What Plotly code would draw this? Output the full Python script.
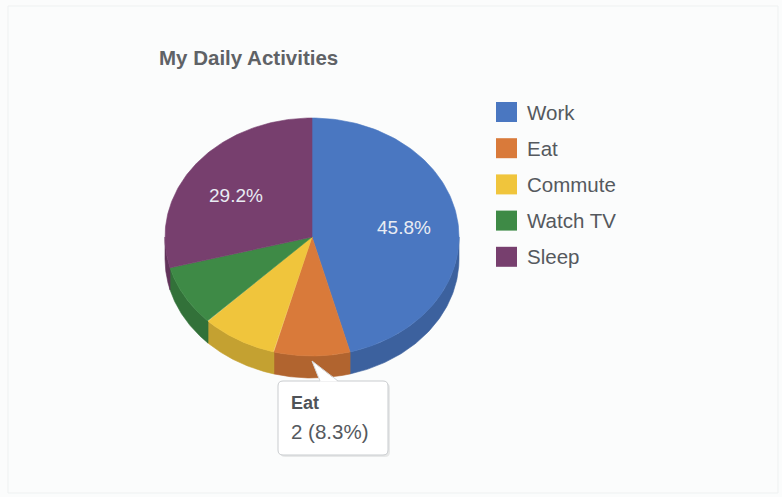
import numpy as np
import plotly.graph_objects as go

# Hours per day spent on each activity
categories = ["Work", "Eat", "Commute", "Watch TV", "Sleep"]
hours = [11, 2, 2, 2, 7]
top_colors = ["#4a77c1", "#d97a3a", "#f0c53c", "#3e8a46", "#773f6e"]
chart_title = "My Daily Activities"
tooltip_index = 1  # slice whose tooltip is shown

# Tilted-ellipse geometry of the pie (pixel space)
CX, CY, RX, RY, DEPTH = 312, 237, 147, 119, 22
W, H = 782, 497
FONT = "Arial, Liberation Sans, sans-serif"


def darken(hex_color, f):
    h = hex_color.lstrip("#")
    r, g, b = (int(h[i:i + 2], 16) for i in (0, 2, 4))
    return "#%02x%02x%02x" % (int(r * f), int(g * f), int(b * f))


def rim(theta_deg, drop=0.0):
    t = np.radians(theta_deg)
    return CX + RX * np.sin(t), CY - RY * np.cos(t) + drop


total = float(sum(hours))
shares = [v / total for v in hours]
bounds = np.concatenate([[0.0], np.cumsum(shares) * 360.0])

fig = go.Figure()

# Side walls (visible front half, 90..270 degrees clockwise from 12 o'clock)
for i, name in enumerate(categories):
    a0, a1 = max(bounds[i], 90.0), min(bounds[i + 1], 270.0)
    if a1 <= a0:
        continue
    th = np.linspace(a0, a1, 80)
    xt, yt = rim(th)
    xb, yb = rim(th[::-1], DEPTH)
    fig.add_trace(go.Scatter(
        x=np.concatenate([xt, xb, xt[:1]]), y=np.concatenate([yt, yb, yt[:1]]),
        mode="lines", fill="toself", fillcolor=darken(top_colors[i], 0.82),
        line=dict(width=0.6, color=darken(top_colors[i], 0.82)),
        hoverinfo="skip", showlegend=False))

# Top faces
for i, name in enumerate(categories):
    th = np.linspace(bounds[i], bounds[i + 1], 120)
    xs, ys = rim(th)
    fig.add_trace(go.Scatter(
        x=np.concatenate([[CX], xs, [CX]]), y=np.concatenate([[CY], ys, [CY]]),
        mode="lines", fill="toself", fillcolor=top_colors[i],
        line=dict(width=0.6, color=top_colors[i]),
        name=name, hoverinfo="text",
        text=f"{name}<br>{hours[i]} ({shares[i] * 100:.1f}%)",
        showlegend=False))

annotations = []
shapes = []

# Percentage labels on the larger slices
for i, s in enumerate(shares):
    if s < 0.1:
        continue
    mid = (bounds[i] + bounds[i + 1]) / 2
    t = np.radians(mid)
    lx = CX + RX * 0.63 * np.sin(t)
    ly = CY - RY * 0.63 * np.cos(t)
    if mid > 180:
        lx -= 3
        ly += 4
    annotations.append(dict(
        x=lx, y=ly, xref="x", yref="y", text=f"{s * 100:.1f}%", showarrow=False,
        font=dict(family=FONT, size=19, color="#e9ecf3")))

# Title
annotations.append(dict(
    x=157, y=57, xref="x", yref="y", xanchor="left", yanchor="middle",
    text=f"<b>{chart_title}</b>", showarrow=False,
    font=dict(family=FONT, size=20.5, color="#5f6266")))

# Legend
for i, name in enumerate(categories):
    yc = 112 + i * 36.2
    shapes.append(dict(type="rect", xref="x", yref="y", x0=496, x1=517,
                       y0=yc - 10, y1=yc + 10,
                       fillcolor=top_colors[i], line=dict(width=0)))
    annotations.append(dict(
        x=525, y=yc, xref="x", yref="y", xanchor="left", yanchor="middle",
        text=name, showarrow=False,
        font=dict(family=FONT, size=20.5, color="#55595e")))

# Tooltip for the highlighted slice
bx0, by0, bx1, by1, r = 278, 381, 388, 455, 5
shadow = (f"M{bx0 + r + 2},{by0 + 2} L{bx1 - r + 2},{by0 + 2} Q{bx1 + 2},{by0 + 2} {bx1 + 2},{by0 + r + 2} "
          f"L{bx1 + 2},{by1 - r + 2} Q{bx1 + 2},{by1 + 2} {bx1 - r + 2},{by1 + 2} "
          f"L{bx0 + r + 2},{by1 + 2} Q{bx0 + 2},{by1 + 2} {bx0 + 2},{by1 - r + 2} "
          f"L{bx0 + 2},{by0 + r + 2} Q{bx0 + 2},{by0 + 2} {bx0 + r + 2},{by0 + 2} Z")
shapes.append(dict(type="path", xref="x", yref="y", path=shadow,
                   fillcolor="rgba(0,0,0,0.08)", line=dict(width=0)))
box = (f"M{bx0 + r},{by0} L{bx1 - r},{by0} Q{bx1},{by0} {bx1},{by0 + r} "
       f"L{bx1},{by1 - r} Q{bx1},{by1} {bx1 - r},{by1} "
       f"L{bx0 + r},{by1} Q{bx0},{by1} {bx0},{by1 - r} "
       f"L{bx0},{by0 + r} Q{bx0},{by0} {bx0 + r},{by0} Z")
shapes.append(dict(type="path", xref="x", yref="y", path=box,
                   fillcolor="#ffffff", line=dict(width=1, color="#c9cccf")))
shapes.append(dict(type="path", xref="x", yref="y",
                   path=f"M320,{by0 + 0.5} L312,361 L338,{by0 + 0.5} Z",
                   fillcolor="#ffffff", line=dict(width=0)))
shapes.append(dict(type="path", xref="x", yref="y",
                   path=f"M320,{by0} L312,361 L338,{by0}",
                   line=dict(width=1, color="#d4d6d8")))
annotations.append(dict(
    x=289, y=403, xref="x", yref="y", xanchor="left", yanchor="middle",
    text=f"<b>{categories[tooltip_index]}</b>", showarrow=False,
    font=dict(family=FONT, size=18, color="#4f5358")))
annotations.append(dict(
    x=289, y=431, xref="x", yref="y", xanchor="left", yanchor="middle",
    text=f"{hours[tooltip_index]} ({shares[tooltip_index] * 100:.1f}%)", showarrow=False,
    font=dict(family=FONT, size=20.5, color="#55595e")))

# Faint outer frame
shapes.append(dict(type="rect", xref="x", yref="y", x0=8, x1=W - 4, y0=6, y1=H - 4,
                   line=dict(width=1, color="#eef1f1"), fillcolor="rgba(0,0,0,0)"))

fig.update_layout(
    width=W, height=H, margin=dict(l=0, r=0, t=0, b=0),
    paper_bgcolor="#fbfcfc", plot_bgcolor="#fbfcfc",
    xaxis=dict(range=[0, W], visible=False, fixedrange=True),
    yaxis=dict(range=[H, 0], visible=False, fixedrange=True),
    shapes=shapes, annotations=annotations, showlegend=False,
)

fig.write_html("out.html")
